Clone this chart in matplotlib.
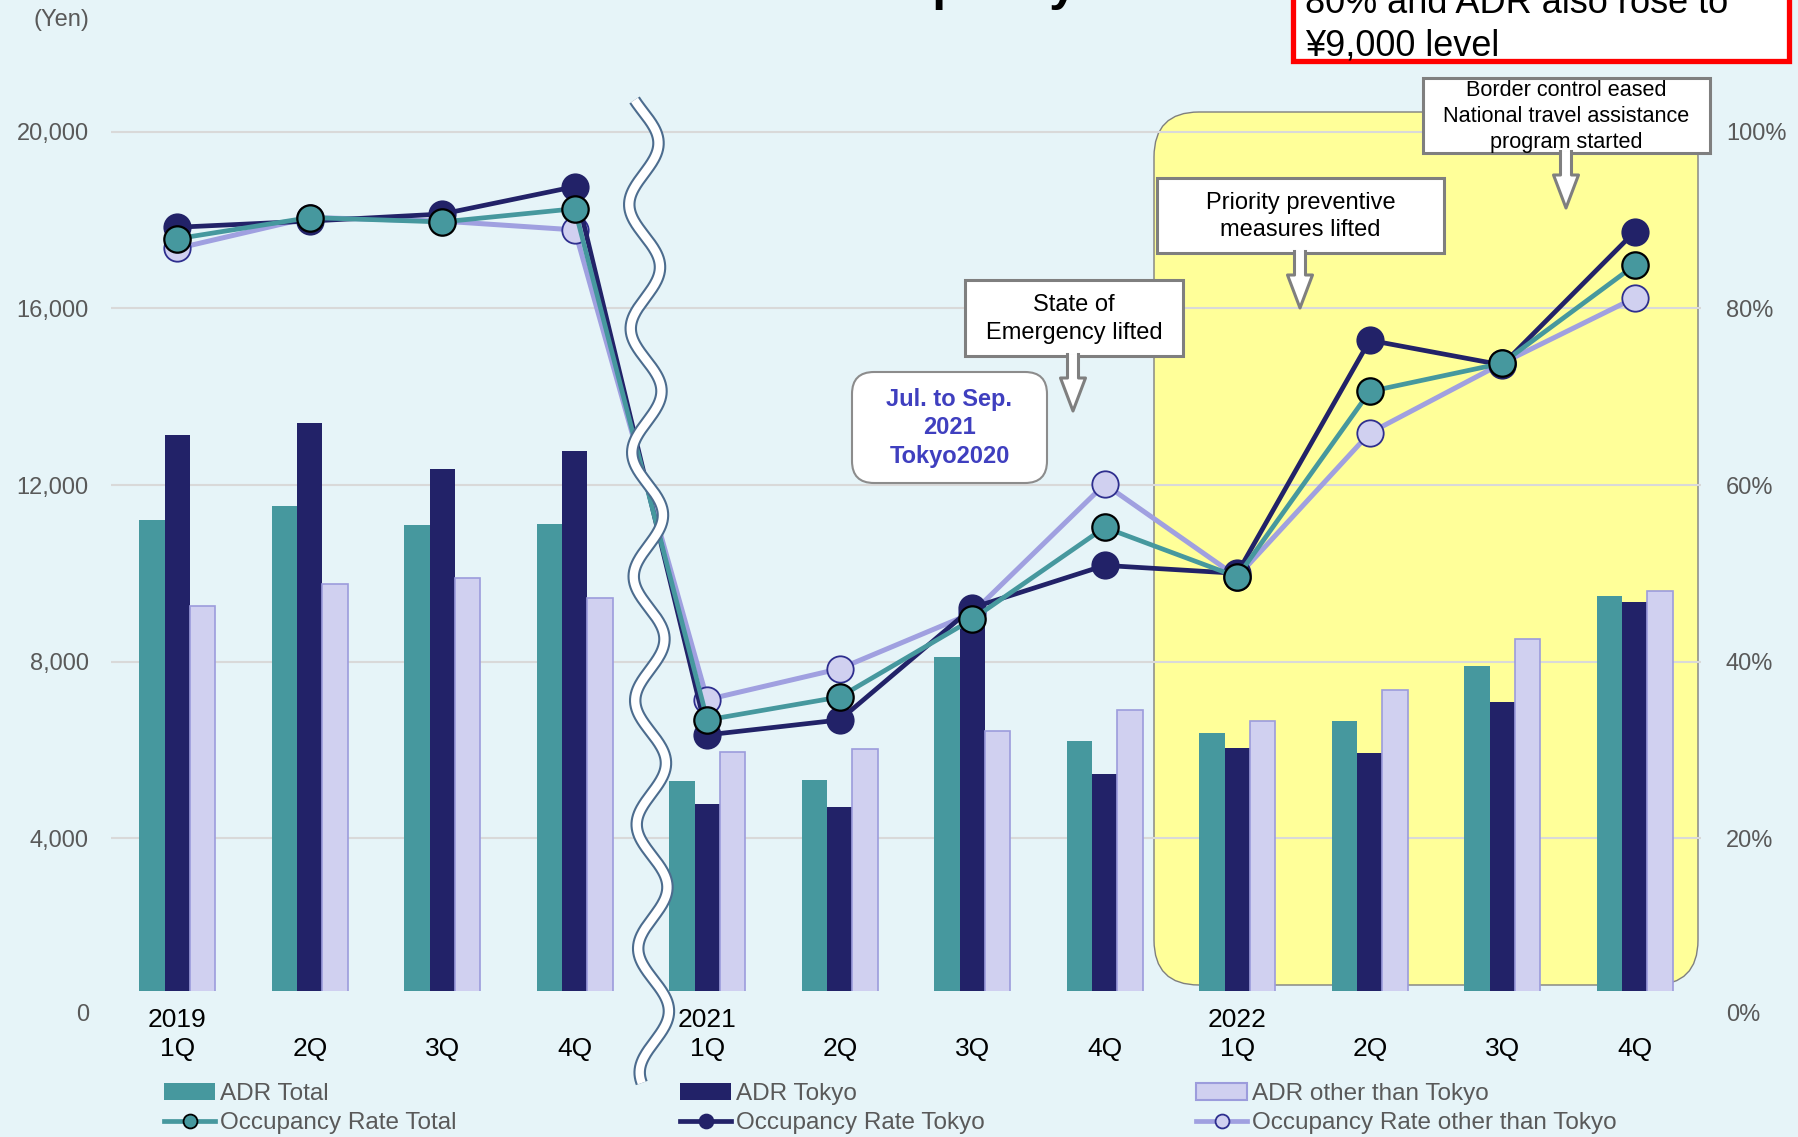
import numpy as np
import matplotlib.pyplot as plt
from matplotlib.patches import Rectangle, FancyBboxPatch, Polygon, Patch
from matplotlib.lines import Line2D

plt.rcParams['font.family'] = ['Liberation Sans', 'DejaVu Sans']

# ---- data ----
quarters = ["2019\n1Q", "\n2Q", "\n3Q", "\n4Q",
            "2021\n1Q", "\n2Q", "\n3Q", "\n4Q",
            "2022\n1Q", "\n2Q", "\n3Q", "\n4Q"]

adr_total = [11200, 11530, 11090, 11120, 5300, 5330, 8100, 6210, 6390, 6650, 7900, 9480]
adr_tokyo = [13140, 13400, 12360, 12780, 4780, 4700, 9350, 5450, 6050, 5920, 7090, 9350]
adr_other = [9270, 9770, 9900, 9450, 5950, 6030, 6420, 6910, 6650, 7350, 8520, 9610]

occ_total = [87.9, 90.3, 89.8, 91.3, 33.4, 36.0, 44.8, 55.2, 49.6, 70.6, 73.8, 84.9]
occ_tokyo = [89.2, 89.9, 90.7, 93.8, 31.7, 33.4, 46.1, 50.9, 50.0, 76.4, 73.6, 88.7]
occ_other = [86.8, 90.3, 89.9, 88.9, 35.7, 39.2, 45.5, 60.1, 49.6, 65.9, 73.8, 81.2]

yen_ticks = [4000, 8000, 12000, 16000, 20000]
pct_ticks = [20, 40, 60, 80, 100]

BG = '#E6F4F8'
TEAL = '#46989E'
NAVY = '#222268'
LAV = '#D0D0F0'
LAV_EDGE = '#9C9CDC'
LAV_LINE = '#A0A0E0'
GREY_TXT = '#595959'
BOX_EDGE = '#7F7F7F'

W, H = 1798, 1137
fig = plt.figure(figsize=(W / 100, H / 100), dpi=100, facecolor=BG)

def fx(px):
    return px / W

def fy(py):
    return 1 - py / H

# background layer (yellow highlight) in pixel coords
bg = fig.add_axes([0, 0, 1, 1], zorder=0)
bg.set_xlim(0, W)
bg.set_ylim(H, 0)
bg.axis('off')
bg.add_patch(FancyBboxPatch((1154, 112), 544, 873,
                            boxstyle='round,pad=0,rounding_size=45',
                            fc='#FFFF99', ec=BOX_EDGE, lw=1))

# main axes
left, right, bottom = 111, 1701, 991
zero_px, top_px = 1014.8, 131.9
px_per_yen = (zero_px - top_px) / 20000
ax = fig.add_axes([fx(left), fy(bottom), (right - left) / W, bottom / H], zorder=1)
ax.patch.set_visible(False)
ylo = (zero_px - bottom) / px_per_yen
yhi = zero_px / px_per_yen
ax.set_ylim(ylo, yhi)
ax.set_xlim(-0.5, 11.5)

x = np.arange(len(quarters))
w = 0.19
ax.bar(x - w, adr_total, w, color=TEAL, label='ADR Total')
ax.bar(x, adr_tokyo, w, color=NAVY, label='ADR Tokyo')
ax.bar(x + w, adr_other, w, color=LAV, edgecolor=LAV_EDGE, linewidth=1.2,
       label='ADR other than Tokyo')

ax.set_yticks(yen_ticks)
ax.set_yticklabels([f'{v:,}' for v in yen_ticks])
ax.set_xticks(x)
ax.set_xticklabels(quarters, fontsize=19, color='black', linespacing=1.27)
ax.tick_params(axis='x', length=0, pad=12)
ax.tick_params(axis='y', length=0, pad=16, labelsize=17, labelcolor=GREY_TXT)
ax.yaxis.grid(True, color='#D9D9D9', lw=1.5)
ax.set_axisbelow(True)
for s in ax.spines.values():
    s.set_visible(False)
ax.annotate('0', xy=(0, 0), xycoords=('axes fraction', 'data'), xytext=(-16, 0),
            textcoords='offset points', ha='right', va='center', fontsize=17,
            color=GREY_TXT, annotation_clip=False)

# occupancy on right axis
ax2 = ax.twinx()
ax2.set_zorder(2)
ax2.patch.set_visible(False)
ax2.set_ylim(ylo / 200, yhi / 200)
ax2.plot(x, occ_other, color=LAV_LINE, lw=3.6, marker='o', ms=19, mfc=LAV, mec='#2E2E8E', mew=1.3)
ax2.plot(x, occ_tokyo, color=NAVY, lw=3.4, marker='o', ms=19, mfc=NAVY, mec=NAVY, mew=1.3)
ax2.plot(x, occ_total, color=TEAL, lw=3.4, marker='o', ms=19, mfc=TEAL, mec='black', mew=1.6)
ax2.set_yticks(pct_ticks)
ax2.set_yticklabels([f'{v}%' for v in pct_ticks])
ax2.tick_params(axis='y', length=0, pad=18, labelsize=17, labelcolor=GREY_TXT)
for s in ax2.spines.values():
    s.set_visible(False)
ax2.annotate('0%', xy=(1, 0), xycoords=('axes fraction', 'data'), xytext=(18, 0),
             textcoords='offset points', ha='left', va='center', fontsize=17,
             color=GREY_TXT, annotation_clip=False)

# foreground layer: wave break, callouts, header bits
fg = fig.add_axes([0, 0, 1, 1], zorder=3)
fg.set_xlim(0, W)
fg.set_ylim(H, 0)
fg.axis('off')

yy = np.linspace(100, 1083, 800)
xx = 643 + (yy - 100) * 0.012 + 15 * np.sin(2 * np.pi * (yy - 100) / 124 - 0.6)
fg.plot(xx, yy, color='#4C6C8E', lw=9, solid_capstyle='butt')
fg.plot(xx, yy, color='white', lw=6, solid_capstyle='butt')

fg.text(89, 20, '(Yen)', ha='right', va='center', fontsize=17, color=GREY_TXT)

# title remnant cut by the top edge (as in the source image)
fg.text(807, 0, 'Occupancy', ha='left', va='baseline', fontsize=36, fontweight='bold', color='black')

# red message box cut by the top edge
fg.add_patch(Rectangle((1293, -40), 496, 101, fc='white', ec='#FF0000', lw=3.8))
fg.text(1305, 13, '80% and ADR also rose to', ha='left', va='baseline', fontsize=26)
fg.text(1305, 55, '\u00a59,000 level', ha='left', va='baseline', fontsize=26)


def callout(x0, y0, x1, y1, text, size, tip, spacing, head=33):
    fg.add_patch(Rectangle((x0, y0), x1 - x0, y1 - y0, fc='white', ec=BOX_EDGE, lw=2.2))
    fg.text((x0 + x1) / 2, (y0 + y1) / 2 + 1, text, ha='center', va='center',
            fontsize=size, linespacing=spacing)
    cx = tip
    hy = y1 + 22
    ty = hy + head
    pts = [(cx - 5.5, y1 - 1.5), (cx - 5.5, hy), (cx - 12.5, hy), (cx, ty),
           (cx + 12.5, hy), (cx + 5.5, hy), (cx + 5.5, y1 - 1.5)]
    fg.add_patch(Polygon(pts, closed=True, fc='white', ec='none'))
    fg.plot([p[0] for p in pts], [p[1] for p in pts], color=BOX_EDGE, lw=2.2)


callout(965, 280, 1183, 356, 'State of\nEmergency lifted', 17, 1073, 1.38)
callout(1157, 178, 1444, 253, 'Priority preventive\nmeasures lifted', 17, 1300, 1.35)
callout(1423, 78, 1710, 153, 'Border control eased\nNational travel assistance\nprogram started',
        15.6, 1566, 1.3)

fg.add_patch(FancyBboxPatch((852, 372), 195, 111, boxstyle='round,pad=0,rounding_size=22',
                            fc='white', ec='#8C8C8C', lw=1.5))
fg.text(949.5, 428, 'Jul. to Sep.\n2021\nTokyo2020', ha='center', va='center',
        fontsize=17, fontweight='bold', color='#3F3FBF', linespacing=1.28)

# legends
def occ_handle(col, mfc, mec):
    return Line2D([], [], color=col, lw=3.4, marker='o', ms=10, mfc=mfc, mec=mec, mew=1.3)

groups = [
    (164, [Patch(fc=TEAL), occ_handle(TEAL, TEAL, 'black')],
     ['ADR Total', 'Occupancy Rate Total']),
    (680, [Patch(fc=NAVY), occ_handle(NAVY, NAVY, NAVY)],
     ['ADR Tokyo', 'Occupancy Rate Tokyo']),
    (1196, [Patch(fc=LAV, ec=LAV_EDGE, lw=1.5), occ_handle(LAV_LINE, LAV, '#2E2E8E')],
     ['ADR other than Tokyo', 'Occupancy Rate other than Tokyo']),
]
for gx, handles, labels in groups:
    fig.legend(handles, labels, loc='upper left', bbox_to_anchor=(fx(gx), fy(1083)),
               frameon=False, fontsize=17.5, handlelength=2.1, handletextpad=0.2,
               labelspacing=0.3, borderpad=0, borderaxespad=0, labelcolor=GREY_TXT)

fig.savefig('out.png', dpi=100, facecolor=BG)
